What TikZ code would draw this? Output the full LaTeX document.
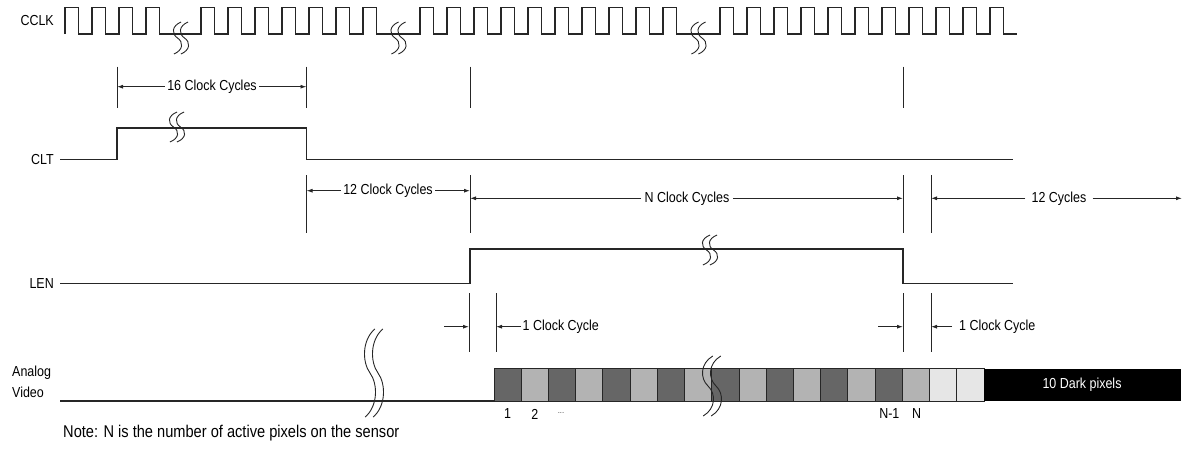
\documentclass[tikz,border=0pt]{standalone}
\usepackage{fontspec}
\setmainfont{Liberation Sans}[FakeStretch=0.86]
\usetikzlibrary{arrows.meta}
\definecolor{pxdark}{HTML}{666666}
\definecolor{pxlight}{HTML}{B3B3B3}
\definecolor{pxpale}{HTML}{E6E6E6}
\begin{document}
\begin{tikzpicture}[x=1pt,y=-1pt,
  wave/.style={line width=1.1pt, line join=miter, draw=black!85},
  tick/.style={line width=0.9pt, draw=black!85},
  dim/.style={line width=0.9pt, draw=black!85, -{Latex[length=6pt,width=4pt]}},
  lbl/.style={font=\fontsize{14.5}{16}\selectfont, inner sep=0pt},
  siglbl/.style={font=\fontsize{14.5}{21}\selectfont, inner sep=0pt},
  brk/.style={line width=0.9pt, draw=black!85},
  pxbox/.style={draw=black!85, line width=0.8pt},
  pics/brk/.style n args={3}{code={
    \foreach \d in {-#3,#3}{
      \draw[brk] ({\d+#2*0.6},{-#1}) .. controls ({\d-#2},{-0.75*#1}) and ({\d-#2},{-0.25*#1}) .. (\d,0)
                 .. controls ({\d+#2},{0.25*#1}) and ({\d+#2},{0.75*#1}) .. ({\d-#2*0.6},{#1});
    }
  }}]
\useasboundingbox (0,0) rectangle (1184,458);

% signal labels
\node[siglbl, anchor=east] (cclk) at (54,21) {CCLK};
\node[siglbl, anchor=east] (clt) at (54,159.5) {CLT};
\node[siglbl, anchor=east] (len) at (54,283.5) {LEN};
\node[siglbl, anchor=west, align=left] (av) at (12,382) {Analog\\Video};

% clock
\draw[wave] (65,34)
  \foreach \i in {1,...,4}{ -- ++(0,-26.5) -- ++(13.5,0) -- ++(0,26.5) -- ++(13.5,0) }
  -- (201,34)
  \foreach \i in {1,...,7}{ -- ++(0,-26.5) -- ++(13.5,0) -- ++(0,26.5) -- ++(13.5,0) }
  -- (420,34)
  \foreach \i in {1,...,10}{ -- ++(0,-26.5) -- ++(13.5,0) -- ++(0,26.5) -- ++(13.5,0) }
  -- (720,34)
  \foreach \i in {1,...,11}{ -- ++(0,-26.5) -- ++(13.5,0) -- ++(0,26.5) -- ++(13.5,0) };

% CLT, LEN, analog baseline
\draw[wave] (60,159.5) -- (117,159.5) -- (117,128) -- (306.5,128) -- (306.5,159.5) -- (1013,159.5);
\draw[wave] (60,283.5) -- (470,283.5) -- (470,249) -- (903,249) -- (903,283.5) -- (1013,283.5);
\draw[wave] (60,401) -- (494,401);

% reference ticks
\foreach \x in {117,306.5,470,903} \draw[tick] (\x,66.7) -- (\x,108.3);
\foreach \x in {306.5,470,903,931} \draw[tick] (\x,175) -- (\x,233);
\foreach \x in {469,496,903,931} \draw[tick] (\x,293) -- (\x,352);

% dimensions
\coordinate (a1) at (117,86.7); \coordinate (a2) at (306.5,86.7);
\node[lbl, inner xsep=2.5pt] (t16) at (212,86.7) {16 Clock Cycles};
\draw[dim] (t16.west) -- (a1); \draw[dim] (t16.east) -- (a2);

\coordinate (c1) at (306.5,190.7); \coordinate (c2) at (470,190.7);
\node[lbl, inner xsep=2.5pt] (t12) at (388,190.7) {12 Clock Cycles};
\draw[dim] (t12.west) -- (c1); \draw[dim] (t12.east) -- (c2);

\coordinate (n1) at (470,198.3); \coordinate (n2) at (903,198.3);
\node[lbl, inner xsep=3.5pt] (tn) at (687,198.3) {N Clock Cycles};
\draw[dim] (tn.west) -- (n1); \draw[dim] (tn.east) -- (n2);

\coordinate (e1) at (931,198.3); \coordinate (e2) at (1182,198.3);
\node[lbl, inner xsep=6pt] (te) at (1059,198.3) {12 Cycles};
\draw[dim] (te.west) -- (e1); \draw[dim] (te.east) -- (e2);

\coordinate (b1) at (444,326.7); \coordinate (b2) at (469,326.7); \coordinate (b3) at (496,326.7);
\node[lbl, anchor=west, inner xsep=1.5pt] (t1a) at (521,326.7) {1 Clock Cycle};
\draw[dim] (b1) -- (b2); \draw[dim] (t1a.west) -- (b3);

\coordinate (b4) at (878,326.7); \coordinate (b5) at (903,326.7); \coordinate (b6) at (931,326.7);
\node[lbl, anchor=west, inner xsep=7pt] (t1b) at (952,326.7) {1 Clock Cycle};
\draw[dim] (b4) -- (b5); \draw[dim] (t1b.west) -- (b6);

% pixels
\foreach \i in {0,2,...,14} \draw[pxbox, fill=pxdark] ({494+\i*27.22},368.5) rectangle ++(27.22,32.5);
\foreach \i in {1,3,...,15} \draw[pxbox, fill=pxlight] ({494+\i*27.22},368.5) rectangle ++(27.22,32.5);
\foreach \i in {16,17} \draw[pxbox, fill=pxpale] ({494+\i*27.22},368.5) rectangle ++(27.22,32.5);
\fill[black] (984,368.5) rectangle (1181,401);
\node[lbl, text=white] (dark) at (1082,384.7) {10 Dark pixels};

\node[lbl] (p1) at (507.6,414) {1};
\node[lbl] (p2) at (534.8,414) {2};
\node[font=\fontsize{9}{10}\selectfont, text=black!70, inner sep=0pt] (pd) at (561,413) {...};
\node[lbl] (pn1) at (889.3,414) {N-1};
\node[lbl] (pn) at (916.6,414) {N};

% note
\node[font=\fontsize{17}{19}\selectfont, anchor=base west, inner sep=0pt] (note) at (63,437) {Note: N is the number of active pixels on the sensor};

% breaks
\pic at (181,38) {brk={16}{6}{3.5}};
\pic at (398.5,38) {brk={16}{6}{3.5}};
\pic at (698.5,38) {brk={16}{6}{3.5}};
\pic at (177,127) {brk={15}{6}{3.5}};
\pic at (710,250) {brk={15}{6}{3.5}};
\pic at (374,373) {brk={44}{8}{4}};
\pic at (712,386) {brk={30}{8}{4}};
\end{tikzpicture}
\end{document}
